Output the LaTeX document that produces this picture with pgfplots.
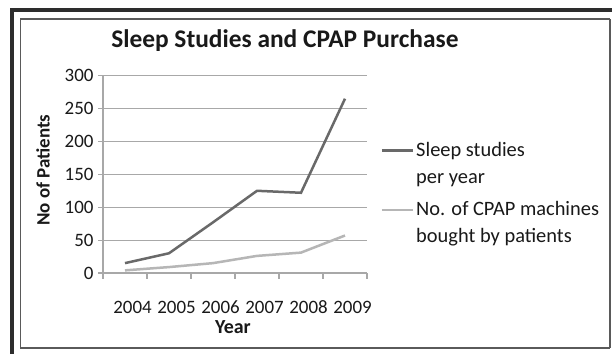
\documentclass[border=0pt]{standalone}
\usepackage{pgfplots}
\pgfplotsset{compat=1.18}
\usepackage{fontspec}
\setmainfont{Carlito}
\definecolor{darkline}{RGB}{105,105,105}
\definecolor{lightline}{RGB}{182,182,182}
\definecolor{gridc}{RGB}{168,168,168}
\definecolor{txt}{RGB}{25,25,25}
\begin{document}
\begin{tikzpicture}
\useasboundingbox (0bp,0bp) rectangle (612bp,354bp);
\fill[white] (0bp,0bp) rectangle (612bp,354bp);
\draw[line width=4bp, color={rgb,255:red,45;green,45;blue,45}] (11.5bp,0bp) -- (11.5bp,344.3bp) -- (612bp,344.3bp);
\draw[line width=1.2bp, color={rgb,255:red,90;green,90;blue,90}] (20.7bp,6bp) rectangle (609.5bp,335bp);
\draw[line width=2.5bp, color={rgb,255:red,90;green,90;blue,90}] (610bp,6bp) -- (610bp,335bp);
\begin{axis}[
  at={(103bp,81bp)}, anchor=south west,
  scale only axis, width=264bp, height=197.3bp,
  xmin=0, xmax=6, ymin=0, ymax=300,
  axis lines=left, axis line style={-, gridc, line width=1.2bp},
  xtick={0.5,1.5,2.5,3.5,4.5,5.5},
  xticklabels={2004,2005,2006,2007,2008,2009},
  minor xtick={0,1,2,3,4,5,6},
  ytick={0,50,100,150,200,250,300},
  ymajorgrids, major grid style={gridc, line width=1.2bp},
  tick align=outside,
  x tick style={draw=none},
  minor x tick style={draw=gridc, line width=1.2bp},
  minor tick length=6bp,
  y tick style={gridc, line width=1.2bp},
  major tick length=5bp,
  /pgf/number format/assume math mode=true,
  tick label style={font=\fontsize{19}{21}\selectfont, text=txt},
  xticklabel style={anchor=center, inner sep=0pt, yshift=-29bp, xshift=7.5bp},
  yticklabel style={xshift=-1bp},
  title={Sleep Studies and CPAP Purchase},
  title style={font=\bfseries\fontsize{25.5}{28}\selectfont, text=txt, at={(axis description cs:0.689,1.148)}, anchor=center},
  xlabel={Year},
  xlabel style={font=\bfseries\fontsize{20}{22}\selectfont, text=txt, inner sep=0pt, at={(axis description cs:0.492,-0.272)}, anchor=center},
  ylabel={No of Patients},
  ylabel style={font=\bfseries\fontsize{19}{21}\selectfont, text=txt, at={(axis description cs:-0.227,0.522)}, anchor=center, rotate=0},
  legend style={at={(1.04,0.685)}, anchor=north west, draw=none, fill=none,
    font=\fontsize{20.5}{27}\selectfont, text=txt,
    nodes={align=left, inner sep=2bp},
    row sep=13bp},
  legend cell align=left,
  legend image code/.code={\draw[#1] (0bp,13bp) -- (31bp,13bp);},
]
\addplot[darkline, line width=2.5bp] coordinates {(0.5,15) (1.5,30) (2.5,77) (3.5,125) (4.5,122) (5.5,265)};
\addlegendentry{Sleep studies\\per year}
\addplot[lightline, line width=2.5bp] coordinates {(0.5,4) (1.5,9) (2.5,15) (3.5,26) (4.5,31) (5.5,57)};
\addlegendentry{No. of CPAP machines\\bought by patients}
\end{axis}
\end{tikzpicture}
\end{document}
